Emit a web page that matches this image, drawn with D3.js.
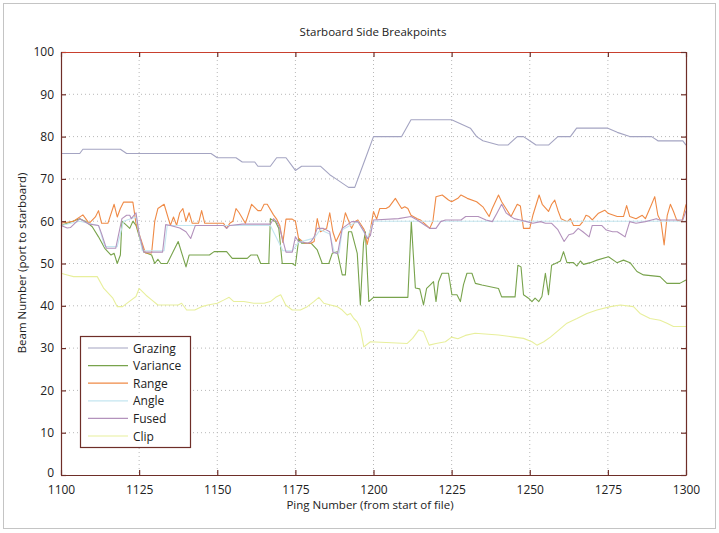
<!DOCTYPE html>
<html>
<head>
<meta charset="utf-8">
<script src="https://cdn.jsdelivr.net/npm/d3@7"></script>
<style>
	body { margin: 0; background: #fff; }
	text { font-family: "Open Sans", "DejaVu Sans", sans-serif; fill: #222; }
</style>
</head>
<body>
<script>
// values, [ping, beam]
var xTicks = [1100, 1125, 1150, 1175, 1200, 1225, 1250, 1275, 1300];
var yTicks = [0, 10, 20, 30, 40, 50, 60, 70, 80, 90, 100];
var seriesNames = ["Grazing", "Variance", "Range", "Angle", "Fused", "Clip"];

var grazing = [[1100,76],[1106,76],[1107,77],[1119,77],[1121,76],[1148,76],[1150,75],[1156,75],[1158,74],[1162,74],[1163,73],[1167,73],[1169,75],[1172,75],[1175,72],[1177,73],[1183,73],[1186,71],[1188,70],[1192,68],[1194,68],[1197,74],[1200,80],[1209,80],[1212,84],[1225,84],[1228,83],[1231,82],[1233,80],[1235,79],[1240,78],[1243,78],[1246,80],[1248,80],[1250,79],[1252,78],[1256,78],[1259,80],[1263,80],[1265,82],[1275,82],[1278,81],[1282,80],[1289,80],[1291,79],[1299,79],[1300,78]];

var variance = [[1100,59],[1102,59.5],[1106,60.6],[1108,59.9],[1110,58.7],[1112,56.3],[1114,53.6],[1116,52],[1117,52.4],[1118,50],[1119,52],[1119.5,60],[1121,59],[1122,58.3],[1123,60],[1124,59],[1126.5,52.7],[1129,52],[1130,50],[1131,51],[1132,50],[1134,50],[1137.5,55.2],[1140,49.2],[1141,52],[1147.5,52],[1149,52.8],[1153,52.8],[1154.8,51.2],[1159.6,51.2],[1160.7,52],[1162.8,52],[1163.9,50],[1166.5,50],[1167,60.6],[1168.6,59.9],[1169.7,58.3],[1170.8,50],[1174,50],[1175,49.5],[1176.1,55.9],[1177,54.8],[1180,54.8],[1182,53.2],[1183.6,50],[1185.7,50],[1186.8,52.4],[1188.4,52.8],[1190,47.3],[1191,47.3],[1192,57.5],[1193,57.5],[1194.8,52.4],[1195.8,40.2],[1196.8,54.8],[1197.4,57.5],[1198.5,41],[1200,42],[1211,42],[1212.1,59.9],[1213.4,44.2],[1214.8,44],[1216,40.2],[1217,44.1],[1218.1,44.9],[1219.2,45.7],[1220,41],[1220.8,45.7],[1221.9,47.7],[1224,47.7],[1225.1,42.6],[1226.7,42.6],[1227.8,41],[1228.8,45],[1229.9,47.7],[1231.5,47.7],[1232.6,45.3],[1234.7,44.9],[1240,44.1],[1241,42.1],[1245.3,42.1],[1246.2,49.6],[1247.2,49.2],[1248,42.6],[1249.6,41.8],[1250.7,41],[1251.7,41.8],[1252.9,41],[1253.9,42.2],[1255,47.7],[1256,42.6],[1257,49.6],[1258.7,50.2],[1259.8,50.6],[1260.8,52.8],[1261.9,50.2],[1264,50.2],[1265.1,49.4],[1266.2,50.6],[1267.2,49.8],[1269.4,50.2],[1271.5,50.8],[1275.2,51.6],[1277.9,50.2],[1280,50.8],[1282.1,50.2],[1284.3,48.1],[1286.4,47.3],[1291.7,46.9],[1293.9,45.3],[1298,45.3],[1300,46.1]];

var range = [[1100,59.5],[1104,60],[1107,61.5],[1109,59.5],[1111,61],[1112,62.5],[1113,59.5],[1115,59.5],[1117,64],[1118,61],[1119,63],[1120,64.5],[1123,64.5],[1124,59.5],[1125,57],[1127,52.5],[1129,52.5],[1130,60],[1131,63],[1133,64],[1135,59],[1136,61],[1137,59],[1138,62],[1139,63],[1140,60],[1141,62],[1142,59.5],[1144,59.5],[1145,62.5],[1146,59.5],[1152,59.5],[1153,58.3],[1154,59.5],[1155,60],[1156,63],[1157,62],[1159,59.5],[1161,64],[1163,62.5],[1164,62.5],[1165,64],[1166,64],[1168,61.5],[1169,60.5],[1170,59],[1171,55],[1172,60.5],[1174,60.5],[1175,60],[1176,56],[1178,54.8],[1180,54.8],[1181,55.2],[1182,60.6],[1183,57.5],[1185,58.3],[1186,62],[1187,57.5],[1188,55.2],[1190,58.3],[1191,62],[1193,58.3],[1194,59.9],[1195,60.3],[1197,58],[1198,54.5],[1199,58],[1200,62.3],[1201,60.5],[1202,63],[1204,63],[1205,63.4],[1207,65.4],[1208,64.2],[1209,63],[1210,63.4],[1211,63],[1212,61.4],[1214,60.6],[1215,60.3],[1217,59],[1218,58.3],[1219,60],[1220,65.8],[1222,66.2],[1224,65],[1225,64.6],[1227,65.4],[1228,66.2],[1230,65.4],[1233,64.6],[1235,63.4],[1237,61.1],[1238,63],[1239,64.6],[1240,66.2],[1241,64.6],[1243,62.3],[1244,61.1],[1246,64],[1247,63.6],[1248,58.3],[1250,58.3],[1251,61.4],[1253,66.2],[1254,64],[1256,62.3],[1257,64],[1258,65],[1259,62.6],[1260,60.6],[1262,59.9],[1263,60.6],[1264,59],[1266,59],[1267,59.9],[1268,61.4],[1269,61.1],[1270,60.3],[1272,61.9],[1274,62.6],[1275,61.9],[1278,61.1],[1280,61.1],[1281,63.7],[1282,61.1],[1284,60.6],[1286,61.4],[1287,60.6],[1289,64],[1290,65.8],[1291,61.4],[1292,59.9],[1293,54.4],[1294,61.4],[1295,64],[1296,62.3],[1297,60.3],[1298.7,59.9],[1300,64]];

var angle = [[1100,59],[1106,60],[1112,59],[1114,54],[1118,54],[1120,60],[1124,61],[1126,53],[1133,53],[1134,59],[1143,59],[1167,59],[1171,53],[1174,53],[1176,55],[1181,56],[1183,58],[1186,57],[1187.5,52.5],[1189,52.5],[1190,58],[1195,60],[1198,56],[1200,60],[1300,60]];

var fused = [[1100,59],[1102,58.4],[1103,58.5],[1106,60.6],[1109,59.3],[1112,59],[1113,57],[1114.5,53.6],[1117.5,53.6],[1119.5,60.6],[1121,61.4],[1122,61.4],[1122.5,60.6],[1124,62],[1125,57],[1126.5,52.7],[1132.5,52.7],[1133.5,59.2],[1135,59],[1138,58.4],[1140,57.5],[1141.5,55.9],[1143,59],[1152,59],[1153,58.3],[1154,59],[1158,59.3],[1167,59.3],[1168,60.6],[1169,59.9],[1170,58.3],[1172,52.7],[1174,52.7],[1175,56.3],[1176,55.2],[1179,54.8],[1180,55.2],[1181,56.3],[1182,58.3],[1184,58.3],[1186,57.5],[1187,52.7],[1188.5,52.3],[1190,58.3],[1193,59.9],[1195,59.9],[1197,57.5],[1198,55.9],[1199,56.6],[1200,60.3],[1208,60.6],[1212,61.1],[1214,60.3],[1216.6,59],[1218,58.3],[1220,58.3],[1221.5,59.9],[1223,60.3],[1228,60.3],[1229.5,61.1],[1233.5,61.1],[1236,60.3],[1238,59.9],[1239.5,61.9],[1241,64],[1242.5,61.9],[1245,60.6],[1247,60.3],[1249,59.9],[1251,59.5],[1253.5,59.9],[1255,59.5],[1257,59.5],[1259,58],[1261,55.2],[1262.5,56.8],[1264,57.1],[1265.5,58.3],[1267,57.5],[1269,56.3],[1270,59],[1273,59],[1274.5,57.9],[1276.5,57.5],[1278,57.5],[1279.5,56.8],[1280.5,56.3],[1282,59.9],[1284,59.5],[1287,59.9],[1289,60.3],[1290.5,60.6],[1291.5,60.3],[1299,60.3],[1300,62.5]];

var clip = [[1100,47.7],[1102,47.3],[1104,46.9],[1111.6,46.9],[1113.7,44.1],[1116.6,41.8],[1118,39.8],[1119.7,39.8],[1121.8,41],[1124,42.2],[1125,44.1],[1127.2,42.5],[1129,41.4],[1131,40.2],[1137.5,40.2],[1138.6,40.6],[1140.2,39],[1142.8,39],[1145,39.8],[1147,40.2],[1150,40.6],[1152.2,41.4],[1153.8,42],[1155.3,41],[1158.5,41],[1161.7,40.6],[1165,40.6],[1167,41],[1168.7,42],[1170.3,42.6],[1171.9,40.2],[1174,39],[1176.6,39],[1178.8,39.8],[1180.9,41],[1182.5,42],[1184.1,40.6],[1186.2,40.2],[1188.4,39.8],[1190,39],[1191.6,37.8],[1192.6,38.2],[1193.7,37],[1194.8,36.2],[1195.8,34.6],[1196.9,30.3],[1199,31.5],[1210.8,31.1],[1212.5,32.3],[1214.5,34.3],[1216,33.9],[1217.8,30.7],[1220,31.1],[1223,31.5],[1225,32.6],[1227,32.2],[1229.4,33],[1232.5,33.5],[1240,33.1],[1245,32.6],[1248,32.3],[1250.7,31.5],[1252.3,30.7],[1254.5,31.5],[1256.6,32.6],[1258.7,33.9],[1261.9,35.9],[1265.1,37],[1268.3,38.2],[1271.5,39],[1275.8,39.8],[1279,40.2],[1283.2,39.8],[1285.3,38.2],[1288.5,37],[1291.7,36.6],[1293.9,35.9],[1296,35.1],[1300,35.1]];

var seriesData = [grazing, variance, range, angle, fused, clip];
var seriesColors = ["#a4a4c2", "#78a34c", "#ef8a46", "#c4e6f0", "#b392bc", "#e8ef9c"];

window.onload = function(){

	var w = 719, h = 533;
	var left = 61, right = 686, top = 52, bottom = 475;
	var axisColor = "#6e2e28";

	var svg = d3.select("body")
		.append("svg")
		.attr("width", w)
		.attr("height", h);

	// page frame of the scan
	svg.append("rect")
		.attr("x", 3.5)
		.attr("y", 3.5)
		.attr("width", 712)
		.attr("height", 525)
		.style("fill", "#fff")
		.style("stroke", "#c4c4c4");

	var x = d3.scaleLinear()
		.domain([1100, 1300])
		.range([left, right]);

	var y = d3.scaleLinear()
		.domain([0, 100])
		.range([bottom, top]);

	// dotted grid
	var grid = svg.append("g").attr("class", "grid");
	grid.selectAll(".vgrid")
		.data(xTicks.slice(1, -1))
		.enter()
		.append("line")
		.attr("x1", function(d){ return x(d); })
		.attr("x2", function(d){ return x(d); })
		.attr("y1", top)
		.attr("y2", bottom)
		.style("stroke", "#b8b8b8")
		.style("stroke-dasharray", "1,3");
	grid.selectAll(".hgrid")
		.data(yTicks.slice(1, -1))
		.enter()
		.append("line")
		.attr("x1", left)
		.attr("x2", right)
		.attr("y1", function(d){ return y(d); })
		.attr("y2", function(d){ return y(d); })
		.style("stroke", "#b8b8b8")
		.style("stroke-dasharray", "1,3");

	var line = d3.line()
		.x(function(d){ return x(d[0]); })
		.y(function(d){ return y(d[1]); });

	svg.selectAll(".series")
		.data(seriesData)
		.enter()
		.append("path")
		.attr("class", "series")
		.attr("d", line)
		.style("fill", "none")
		.style("stroke", function(d, i){ return seriesColors[i]; })
		.style("stroke-width", 1.1)
		.style("stroke-linejoin", "round");

	// axes, ticks pointing inward
	var xAxis = svg.append("g")
		.attr("transform", "translate(0," + bottom + ")")
		.call(d3.axisBottom(x).tickValues(xTicks).tickSizeInner(-5).tickSizeOuter(0).tickPadding(10).tickFormat(d3.format("d")));
	var yAxis = svg.append("g")
		.attr("transform", "translate(" + left + ",0)")
		.call(d3.axisLeft(y).tickValues(yTicks).tickSizeInner(-5).tickSizeOuter(0).tickPadding(7));
	var xTop = svg.append("g")
		.attr("transform", "translate(0," + top + ")")
		.call(d3.axisTop(x).tickValues(xTicks).tickSizeInner(-5).tickSizeOuter(0).tickFormat(""));
	var yRight = svg.append("g")
		.attr("transform", "translate(" + right + ",0)")
		.call(d3.axisRight(y).tickValues(yTicks).tickSizeInner(-5).tickSizeOuter(0).tickFormat(""));

	svg.selectAll(".domain, .tick line")
		.style("stroke", axisColor)
		.style("stroke-width", 1.2);
	xTop.select(".domain").style("stroke", "#c8402e");
	svg.selectAll(".tick text")
		.style("font-size", "12px")
		.style("font-family", "'Open Sans', sans-serif")
		.style("fill", "#222");
	// lift the 0 so it clears the 1100 below it
	yAxis.selectAll(".tick text")
		.filter(function(d){ return d === 0; })
		.attr("dy", "0.1em");

	svg.append("text")
		.attr("x", 373)
		.attr("y", 36)
		.attr("text-anchor", "middle")
		.style("font-size", "11.5px")
		.text("Starboard Side Breakpoints");

	svg.append("text")
		.attr("x", 370)
		.attr("y", 509)
		.attr("text-anchor", "middle")
		.style("font-size", "11.5px")
		.text("Ping Number (from start of file)");

	svg.append("text")
		.attr("transform", "translate(26,263) rotate(-90)")
		.attr("text-anchor", "middle")
		.style("font-size", "11.5px")
		.text("Beam Number (port to starboard)");

	// legend
	var legend = svg.append("g").attr("class", "legend");
	legend.append("rect")
		.attr("x", 80.5)
		.attr("y", 336.5)
		.attr("width", 110)
		.attr("height", 111)
		.style("fill", "#fff")
		.style("stroke", axisColor)
		.style("stroke-width", 1.2);

	var items = legend.selectAll(".item")
		.data(seriesNames)
		.enter()
		.append("g")
		.attr("class", "item")
		.attr("transform", function(d, i){ return "translate(0," + (348 + i * 17.6) + ")"; });
	items.append("line")
		.attr("x1", 88)
		.attr("x2", 128)
		.style("stroke", function(d, i){ return seriesColors[i]; })
		.style("stroke-width", 1.2);
	items.append("text")
		.attr("x", 133)
		.attr("y", 4.5)
		.style("font-size", "12px")
		.text(function(d){ return d; });
};
</script>
</body>
</html>
